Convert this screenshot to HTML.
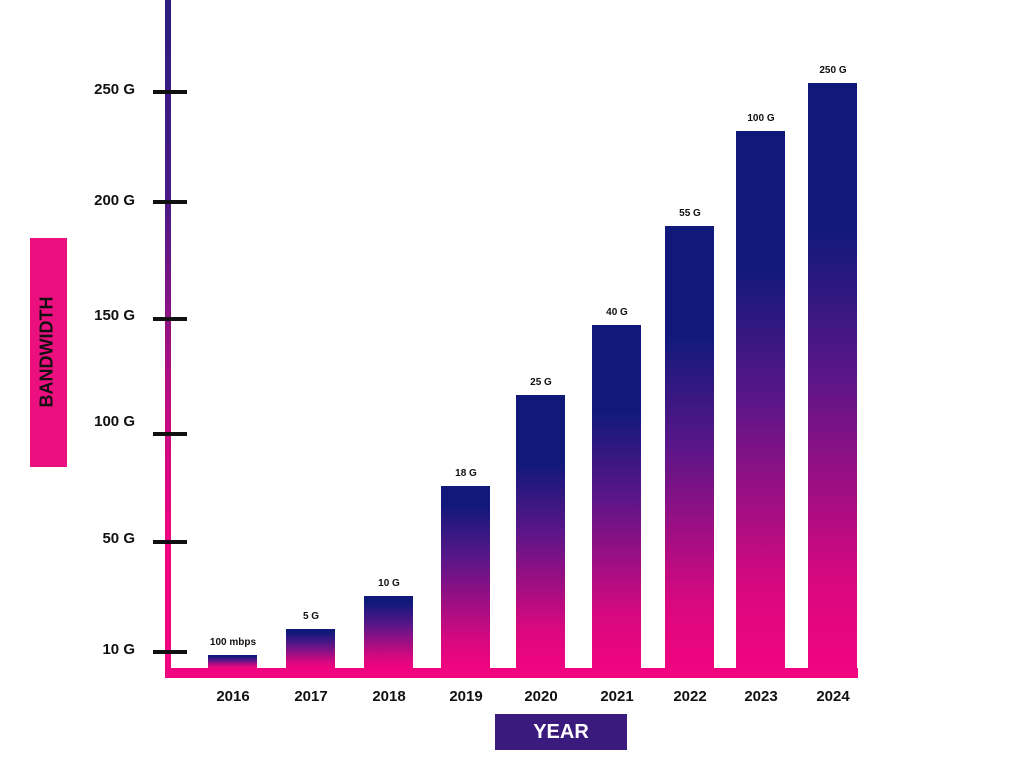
<!DOCTYPE html>
<html><head><style>
body{margin:0;width:1024px;height:768px;background:#fff;position:relative;overflow:hidden;font-family:"Liberation Sans",sans-serif;font-weight:bold;color:#111}
.a{position:absolute}
.bar{position:absolute;bottom:100px;width:49px}
.tick{position:absolute;left:153px;width:34px;height:4px;background:#111}
.yl{position:absolute;width:120px;left:15px;text-align:right;font-size:15px}
.xl{position:absolute;top:688px;font-size:15px;width:80px;text-align:center}
.vl{position:absolute;font-size:10px;width:80px;text-align:center}
</style></head><body>
<div class="a" style="left:165px;top:0;width:6px;height:677px;background:linear-gradient(#2a1c80 0%,#4a1a86 30%,#c00c82 60%,#f0047f 80%)"></div>
<div class="a" style="left:165px;top:668px;width:693px;height:10px;background:#f0047f"></div>
<div class="tick" style="top:90px"></div><div class="yl" style="top:81px">250 G</div>
<div class="tick" style="top:200px"></div><div class="yl" style="top:192px">200 G</div>
<div class="tick" style="top:317px"></div><div class="yl" style="top:307px">150 G</div>
<div class="tick" style="top:432px"></div><div class="yl" style="top:413px">100 G</div>
<div class="tick" style="top:540px"></div><div class="yl" style="top:530px">50 G</div>
<div class="tick" style="top:650px"></div><div class="yl" style="top:641px">10 G</div>

<div id="bars"></div>
<script>
var d=[["2016",208,655,"100 mbps"],["2017",286,629,"5 G"],["2018",364,596,"10 G"],["2019",441,486,"18 G"],["2020",516,395,"25 G"],["2021",592,325,"40 G"],["2022",665,226,"55 G"],["2023",736,131,"100 G"],["2024",808,83,"250 G"]];
var h="";d.forEach(function(b){var H=668-b[2];
h+='<div class="bar" style="left:'+b[1]+'px;top:'+b[2]+'px;background:linear-gradient(#10197a 0%,#10197a '+(H>200?25:10)+'%,#5a1688 '+(H>200?50:40)+'%,#d8087f 85%,#f0047f 100%)"></div>';
h+='<div class="vl" style="left:'+(b[1]-15)+'px;top:'+(b[2]-18)+'px">'+b[3]+'</div>';
h+='<div class="xl" style="left:'+(b[1]-15)+'px">'+b[0]+'</div>';});
document.getElementById("bars").innerHTML=h;
</script>
<div class="a" style="left:30px;top:238px;width:37px;height:229px;background:#ec0f80"></div>
<div class="a" style="left:-66px;top:340px;width:229px;height:24px;transform:rotate(-90deg);text-align:center;font-size:18px;color:#111">BANDWIDTH</div>
<div class="a" style="left:495px;top:714px;width:132px;height:36px;background:#3b1a7e;color:#fff;font-size:20px;text-align:center;line-height:36px">YEAR</div>
</body></html>
